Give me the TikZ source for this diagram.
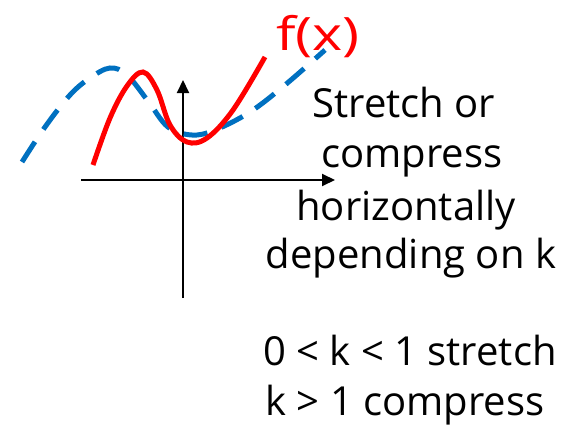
\documentclass[tikz,border=0pt]{standalone}
\usepackage{fontspec}
\setmainfont{Open Sans}
\usetikzlibrary{arrows.meta}
\definecolor{curvered}{RGB}{255,0,0}
\definecolor{curveblue}{RGB}{0,112,192}
\tikzset{
  axis/.style={line width=2pt, -{Triangle[length=13pt,width=12pt]}},
  redcurve/.style={curvered, line width=5pt},
  bluecurve/.style={curveblue, line width=5pt, dash pattern=on 24pt off 15pt},
  label/.style={font=\fontsize{40}{48}\selectfont, inner sep=0pt, anchor=base},
}
\begin{document}
\begin{tikzpicture}[x=1pt,y=-1pt]
\useasboundingbox (0,0) rectangle (568,447);
% axes
\draw[axis] (81,180) -- (335,180);
\draw[axis] (183,298) -- (183,80);
% blue dashed curve
\draw[bluecurve] plot[smooth, tension=0.6] coordinates {(22,162) (45,127) (70,95) (90,78) (110,68) (127,75) (148,101) (168,127) (192,135) (215,130) (250,112) (285,85) (325,50)};
% red curve
\draw[redcurve] plot[smooth, tension=0.6] coordinates {(93,165) (110,118) (127,86) (143,72) (157,90) (170,125) (187,142) (207,138) (233,110) (265,57)};
\node[label, text=curvered, font=\fontsize{46}{50}\selectfont, xscale=1.25] (fx) at (318,50) {f(x)};
\node[label] (l1) at (404,117) {Stretch or};
\node[label] (l2) at (412,167) {compress};
\node[label] (l3) at (406,220) {horizontally};
\node[label] (l4) at (411,268) {depending on k};
\node[label] (l5) at (410,365) {0 < k < 1 stretch};
\node[label] (l6) at (405,415) {k > 1 compress};
\end{tikzpicture}
\end{document}
